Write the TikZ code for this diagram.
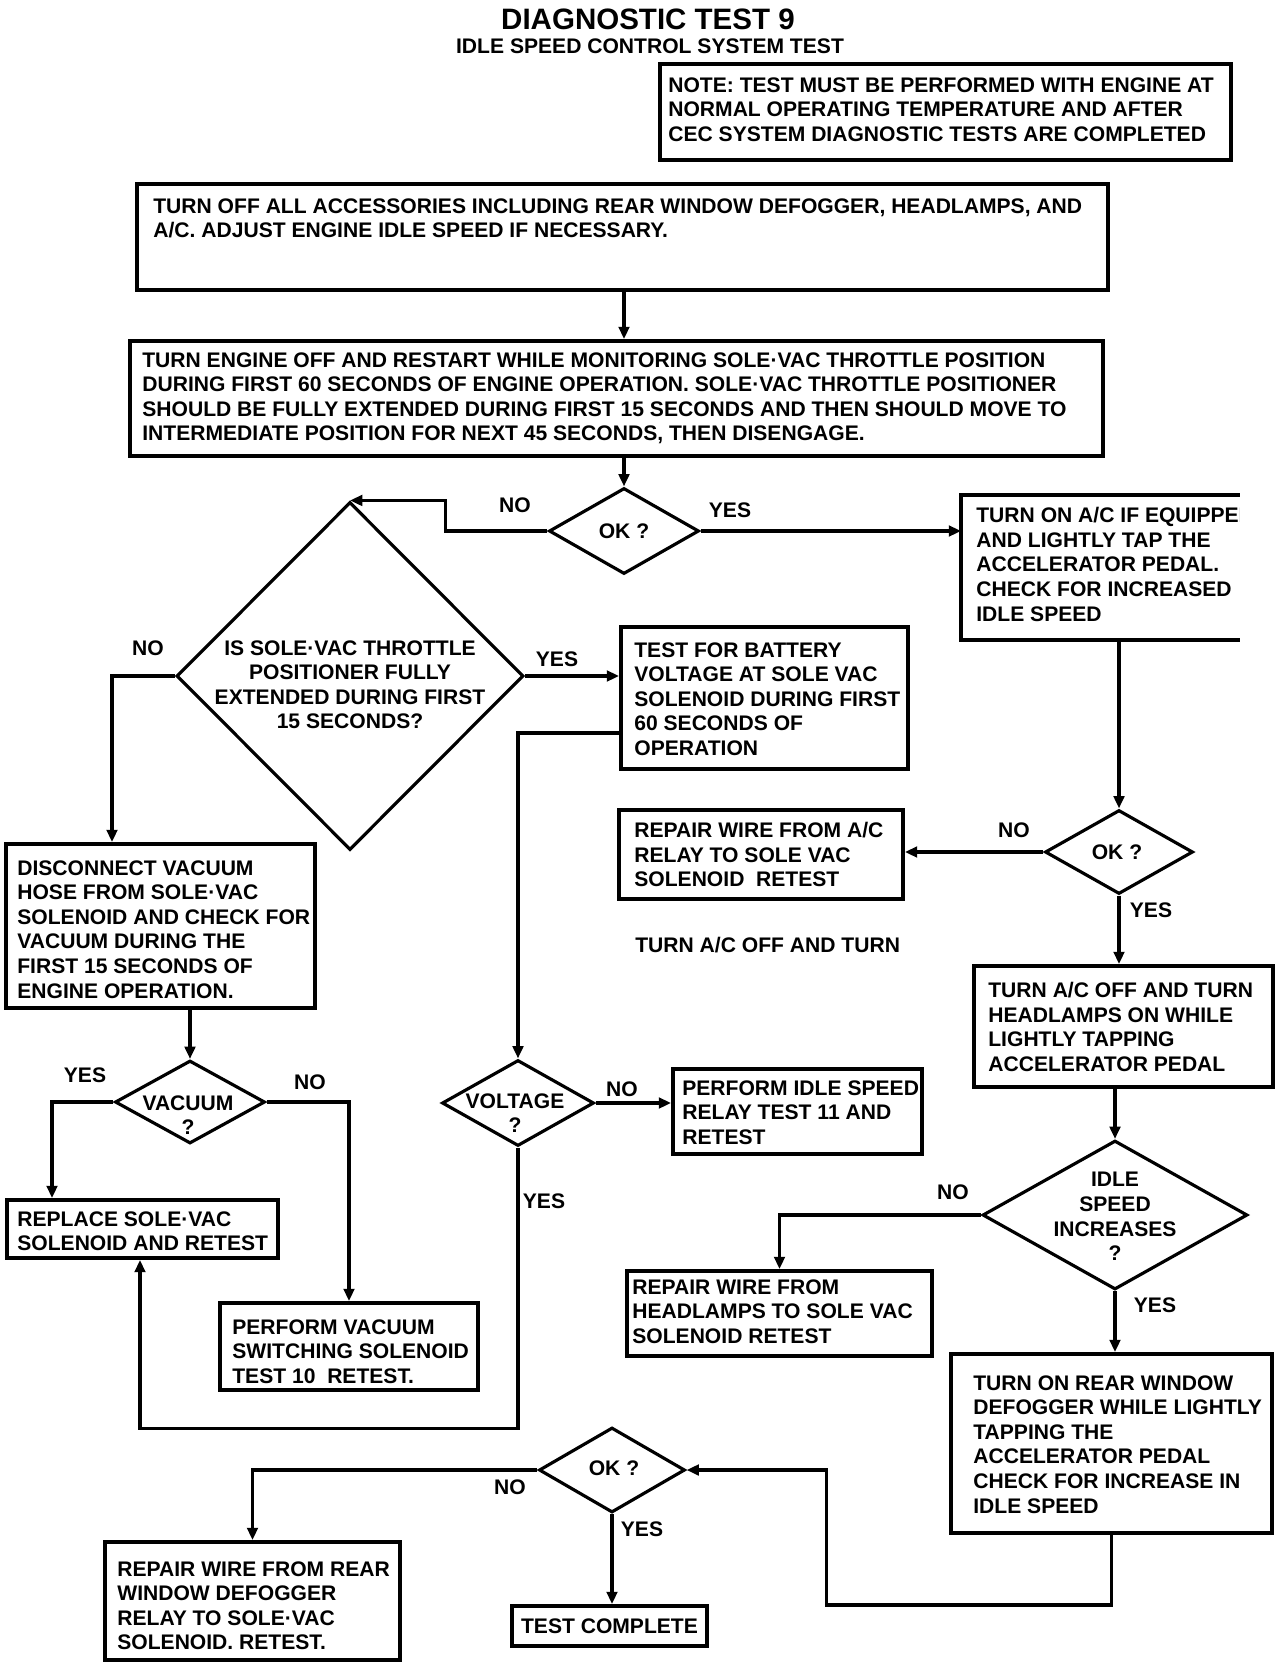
\documentclass[tikz,border=0pt]{standalone}
\usepackage{fontspec}
\setmainfont{Liberation Sans}
\usetikzlibrary{shapes.geometric,arrows.meta}

\begin{document}
\begin{tikzpicture}[
  x=0.02cm, y=-0.02cm,
  font=\fontsize{12}{14}\selectfont\bfseries,
  box/.style={draw, line width=2.2pt, inner sep=0pt},
  check/.style={draw, diamond, line width=1.8pt, inner sep=0pt},
  body/.style={inner sep=0pt, align=left, anchor=north west},
  yn/.style={inner sep=0pt},
  flow/.style={line width=2pt, -{Triangle[length=7pt,width=6pt]}},
]
\useasboundingbox (0,0) rectangle (1280,1666);
% title
\node[font=\fontsize{16.8}{18}\selectfont\bfseries, anchor=north] (title) at (648,3) {DIAGNOSTIC TEST 9};
\node[anchor=north] (subtitle) at (650,33) {IDLE SPEED CONTROL SYSTEM TEST};
% note
\node[box, minimum width=11.42cm, minimum height=1.92cm] (note) at (945.5,112) {};
\node[body] (notet) at (668,77) {NOTE: TEST MUST BE PERFORMED WITH ENGINE AT\\NORMAL OPERATING TEMPERATURE AND AFTER\\CEC SYSTEM DIAGNOSTIC TESTS ARE COMPLETED};
% top steps
\node[box, minimum width=19.42cm, minimum height=2.12cm] (off) at (622.5,237) {};
\node[body] (offt) at (153,198) {TURN OFF ALL ACCESSORIES INCLUDING REAR WINDOW DEFOGGER, HEADLAMPS, AND\\A/C. ADJUST ENGINE IDLE SPEED IF NECESSARY.};
\node[box, minimum width=19.46cm, minimum height=2.30cm] (restart) at (616.5,398.5) {};
\node[body] (restartt) at (142,352) {TURN ENGINE OFF AND RESTART WHILE MONITORING SOLE·VAC THROTTLE POSITION\\DURING FIRST 60 SECONDS OF ENGINE OPERATION. SOLE·VAC THROTTLE POSITIONER\\SHOULD BE FULLY EXTENDED DURING FIRST 15 SECONDS AND THEN SHOULD MOVE TO\\INTERMEDIATE POSITION FOR NEXT 45 SECONDS, THEN DISENGAGE.};
% first check
\node[check, minimum width=3.0cm, minimum height=1.72cm] (ok1) at (624,531) {};
\node[yn] (ok1t) at (ok1) {OK ?};
\node[check, minimum width=6.94cm, minimum height=6.96cm] (full) at (350,676) {};
\node[body, align=center, anchor=north] (fullt) at (350,640) {IS SOLE·VAC THROTTLE\\POSITIONER FULLY\\EXTENDED DURING FIRST\\15 SECONDS?};
% a/c branch (box runs off the page)
\node[box, draw=none, minimum width=5.5cm, minimum height=2.82cm] (acon) at (1100.5,567.5) {};
\draw[line width=2.2pt] (acon.north east) -- (acon.north west) -- (acon.south west) -- (acon.south east);
\begin{scope}
\clip (acon.north west) rectangle (acon.south east);
\node[body] (acont) at (976,507) {TURN ON A/C IF EQUIPPED\\AND LIGHTLY TAP THE\\ACCELERATOR PEDAL.\\CHECK FOR INCREASED\\IDLE SPEED};
\end{scope}
\node[check, minimum width=2.96cm, minimum height=1.68cm] (ok2) at (1119,852) {};
\node[yn] (ok2t) at (1117,852) {OK ?};
\node[box, minimum width=5.68cm, minimum height=1.78cm] (acwire) at (761,854.5) {};
\node[body] (acwiret) at (634,822) {REPAIR WIRE FROM A/C\\RELAY TO SOLE VAC\\SOLENOID\ \ RETEST};
\node[body] (stray) at (635,937) {TURN A/C OFF AND TURN};
\node[box, minimum width=5.98cm, minimum height=2.42cm] (acoff) at (1123.5,1026.5) {};
\node[body] (acofft) at (988,982) {TURN A/C OFF AND TURN\\HEADLAMPS ON WHILE\\LIGHTLY TAPPING\\ACCELERATOR PEDAL};
\node[check, minimum width=5.30cm, minimum height=2.98cm] (idle) at (1115,1215) {};
\node[body, align=center, anchor=north] (idlet) at (1115,1172) {IDLE\\SPEED\\INCREASES\\?};
\node[box, minimum width=6.10cm, minimum height=1.70cm] (headwire) at (779.5,1313.5) {};
\node[body] (headwiret) at (632,1279) {REPAIR WIRE FROM\\HEADLAMPS TO SOLE VAC\\SOLENOID RETEST};
\node[box, minimum width=6.42cm, minimum height=3.58cm] (rearon) at (1111.5,1443.5) {};
\node[body] (rearont) at (973,1375) {TURN ON REAR WINDOW\\DEFOGGER WHILE LIGHTLY\\TAPPING THE\\ACCELERATOR PEDAL\\CHECK FOR INCREASE IN\\IDLE SPEED};
\node[check, minimum width=2.92cm, minimum height=1.70cm] (ok3) at (612,1470) {};
\node[yn] (ok3t) at (614,1468) {OK ?};
\node[box, minimum width=5.90cm, minimum height=2.36cm] (rearwire) at (252.5,1601) {};
\node[body] (rearwiret) at (117,1561) {REPAIR WIRE FROM REAR\\WINDOW DEFOGGER\\RELAY TO SOLE·VAC\\SOLENOID. RETEST.};
\node[box, minimum width=3.90cm, minimum height=0.80cm] (complete) at (609.5,1626) {};
\node[yn] (completet) at (complete) {TEST COMPLETE};
% battery voltage branch
\node[box, minimum width=5.74cm, minimum height=2.84cm] (battery) at (764.5,698) {};
\node[body] (batteryt) at (634,642) {TEST FOR BATTERY\\VOLTAGE AT SOLE VAC\\SOLENOID DURING FIRST\\60 SECONDS OF\\OPERATION};
\node[check, minimum width=3.04cm, minimum height=1.72cm] (volt) at (518,1103) {};
\node[body, align=center, anchor=north] (voltt) at (515,1093) {VOLTAGE\\?};
\node[box, minimum width=4.98cm, minimum height=1.70cm] (idlerelay) at (797.5,1111.5) {};
\node[body] (idlerelayt) at (682,1080) {PERFORM IDLE SPEED\\RELAY TEST 11 AND\\RETEST};
% vacuum branch
\node[box, minimum width=6.18cm, minimum height=3.28cm] (dis) at (160.5,926) {};
\node[body] (dist) at (17,860) {DISCONNECT VACUUM\\HOSE FROM SOLE·VAC\\SOLENOID AND CHECK FOR\\VACUUM DURING THE\\FIRST 15 SECONDS OF\\ENGINE OPERATION.};
\node[check, minimum width=3.0cm, minimum height=1.66cm] (vac) at (190,1102) {};
\node[body, align=center, anchor=north] (vact) at (188,1095) {VACUUM\\?};
\node[box, minimum width=5.42cm, minimum height=1.16cm] (replace) at (142.5,1229) {};
\node[body] (replacet) at (17,1211) {REPLACE SOLE·VAC\\SOLENOID AND RETEST};
\node[box, minimum width=5.16cm, minimum height=1.74cm] (vacperf) at (349,1346.5) {};
\node[body] (vacperft) at (232,1319) {PERFORM VACUUM\\SWITCHING SOLENOID\\TEST 10\ \ RETEST.};
% yes / no
\node[yn] (ok1no) at (515,505) {NO};
\node[yn] (ok1yes) at (730,510) {YES};
\node[yn] (fullno) at (148,648) {NO};
\node[yn] (fullyes) at (557,659) {YES};
\node[yn] (ok2no) at (1014,830) {NO};
\node[yn] (ok2yes) at (1151,910) {YES};
\node[yn] (vacyes) at (85,1075) {YES};
\node[yn] (vacno) at (310,1082) {NO};
\node[yn] (voltno) at (622,1089) {NO};
\node[yn] (voltyes) at (544,1201) {YES};
\node[yn] (idleno) at (953,1192) {NO};
\node[yn] (idleyes) at (1155,1305) {YES};
\node[yn] (ok3no) at (510,1487) {NO};
\node[yn] (ok3yes) at (642,1529) {YES};
% connectors
\draw[flow] (off.south -| ok1.north) -- (restart.north -| ok1.north);
\draw[flow] (restart.south -| ok1.north) -- (ok1.north);
\draw[flow] (ok1.west) -- ++(-102,0) |- (full.north);
\draw[flow] (ok1.east) -- (ok1.east -| acon.west);
\draw[flow] (ok2.north |- acon.south) -- (ok2.north);
\draw[flow] (ok2.west) -- (ok2.west -| acwire.east);
\draw[flow] (ok2.south) -- (ok2.south |- acoff.north);
\draw[flow] (idle.north |- acoff.south) -- (idle.north);
\draw[flow] (idle.west) -| (headwire.north);
\draw[flow] (idle.south) -- (idle.south |- rearon.north);
\draw[flow] (rearon.south) -- ++(0,70) -- ++(-285,0) |- (ok3.east);
\draw[flow] (ok3.west) -| (rearwire.north);
\draw[flow] (ok3.south) -- (ok3.south |- complete.north);
\draw[flow] (full.west) -| ([xshift=-0.97cm]dis.north);
\draw[flow] (full.east) -- (full.east -| battery.west);
\draw[flow] ([yshift=-0.7cm]battery.west) -| (volt.north);
\draw[flow] (volt.east) -- (volt.east -| idlerelay.west);
\draw[flow] (volt.south) -- ++(0,281) -| ([xshift=-0.05cm]replace.south);
\draw[flow] (vac.north |- dis.south) -- (vac.north);
\draw[flow] (vac.west) -| ([xshift=-1.81cm]replace.north);
\draw[flow] (vac.east) -| (vacperf.north);
\end{tikzpicture}
\end{document}
